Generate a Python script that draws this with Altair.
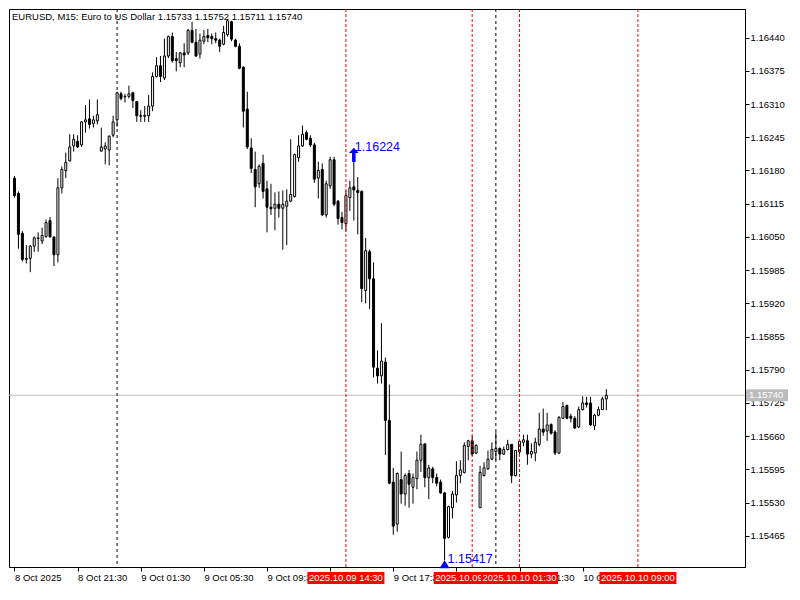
import altair as alt
import pandas as pd

# ---------------- data (EURUSD M15, bar 0 = 8 Oct 2025 17:30) ----------------
opens = [1.16165, 1.16135, 1.16057, 1.16006, 1.16008, 1.16032, 1.16047, 1.16042, 1.16051, 1.16082,
         1.16050, 1.16015, 1.16146, 1.16180, 1.16199, 1.16228, 1.16237, 1.16230, 1.16275, 1.16281,
         1.16272, 1.16277, 1.16218, 1.16222, 1.16220, 1.16249, 1.16279, 1.16330, 1.16324, 1.16325,
         1.16332, 1.16315, 1.16287, 1.16286, 1.16287, 1.16306, 1.16364, 1.16385, 1.16361, 1.16404,
         1.16442, 1.16399, 1.16391, 1.16410, 1.16410, 1.16454, 1.16431, 1.16408, 1.16433, 1.16444,
         1.16442, 1.16438, 1.16435, 1.16427, 1.16446, 1.16471, 1.16435, 1.16423, 1.16382, 1.16300,
         1.16224, 1.16182, 1.16154, 1.16194, 1.16144, 1.16108, 1.16106, 1.16114, 1.16106, 1.16110,
         1.16120, 1.16129, 1.16205, 1.16228, 1.16254, 1.16243, 1.16230, 1.16165, 1.16182, 1.16093,
         1.16150, 1.16201, 1.16120, 1.16088, 1.16076, 1.16127, 1.16148, 1.16141, 1.16139, 1.15945,
         1.16021, 1.15968, 1.15793, 1.15778, 1.15805, 1.15691, 1.15570, 1.15488, 1.15575, 1.15547,
         1.15587, 1.15560, 1.15577, 1.15613, 1.15645, 1.15579, 1.15596, 1.15579, 1.15570, 1.15549,
         1.15462, 1.15520, 1.15545, 1.15583, 1.15589, 1.15640, 1.15651, 1.15627, 1.15520, 1.15583,
         1.15596, 1.15615, 1.15630, 1.15636, 1.15625, 1.15634, 1.15644, 1.15583, 1.15629, 1.15648,
         1.15651, 1.15625, 1.15627, 1.15644, 1.15674, 1.15670, 1.15683, 1.15668, 1.15627, 1.15695,
         1.15720, 1.15699, 1.15695, 1.15678, 1.15712, 1.15725, 1.15725, 1.15680, 1.15701, 1.15712,
         1.15733]

highs = [1.16169, 1.16139, 1.16061, 1.16034, 1.16034, 1.16051, 1.16059, 1.16068, 1.16084, 1.16089,
         1.16050, 1.16165, 1.16188, 1.16215, 1.16251, 1.16251, 1.16249, 1.16277, 1.16308, 1.16319,
         1.16287, 1.16319, 1.16264, 1.16235, 1.16249, 1.16287, 1.16334, 1.16334, 1.16330, 1.16346,
         1.16334, 1.16315, 1.16298, 1.16306, 1.16328, 1.16372, 1.16402, 1.16404, 1.16438, 1.16444,
         1.16450, 1.16412, 1.16412, 1.16429, 1.16457, 1.16471, 1.16457, 1.16448, 1.16455, 1.16457,
         1.16448, 1.16450, 1.16438, 1.16463, 1.16476, 1.16473, 1.16438, 1.16429, 1.16384, 1.16334,
         1.16243, 1.16217, 1.16192, 1.16211, 1.16160, 1.16154, 1.16137, 1.16139, 1.16141, 1.16143,
         1.16241, 1.16213, 1.16249, 1.16268, 1.16258, 1.16249, 1.16234, 1.16197, 1.16194, 1.16160,
         1.16207, 1.16207, 1.16122, 1.16099, 1.16141, 1.16160, 1.16224, 1.16167, 1.16141, 1.16048,
         1.16025, 1.16000, 1.15828, 1.15881, 1.15814, 1.15761, 1.15598, 1.15589, 1.15630, 1.15587,
         1.15594, 1.15587, 1.15630, 1.15663, 1.15646, 1.15604, 1.15600, 1.15587, 1.15575, 1.15551,
         1.15524, 1.15553, 1.15611, 1.15613, 1.15648, 1.15653, 1.15661, 1.15644, 1.15602, 1.15609,
         1.15632, 1.15648, 1.15668, 1.15638, 1.15640, 1.15653, 1.15644, 1.15632, 1.15651, 1.15663,
         1.15663, 1.15646, 1.15657, 1.15706, 1.15714, 1.15706, 1.15685, 1.15672, 1.15699, 1.15727,
         1.15722, 1.15704, 1.15699, 1.15718, 1.15738, 1.15737, 1.15737, 1.15704, 1.15718, 1.15737,
         1.15752]

lows = [1.16127, 1.16027, 1.16002, 1.15998, 1.15981, 1.16021, 1.16021, 1.16036, 1.16048, 1.16049,
        1.15993, 1.16000, 1.16135, 1.16165, 1.16197, 1.16217, 1.16224, 1.16226, 1.16254, 1.16262,
        1.16264, 1.16270, 1.16217, 1.16192, 1.16190, 1.16245, 1.16266, 1.16317, 1.16313, 1.16321,
        1.16302, 1.16275, 1.16275, 1.16275, 1.16275, 1.16296, 1.16362, 1.16353, 1.16357, 1.16400,
        1.16391, 1.16374, 1.16382, 1.16382, 1.16406, 1.16429, 1.16402, 1.16399, 1.16427, 1.16431,
        1.16427, 1.16429, 1.16412, 1.16425, 1.16442, 1.16433, 1.16421, 1.16378, 1.16264, 1.16222,
        1.16175, 1.16108, 1.16146, 1.16125, 1.16059, 1.16093, 1.16063, 1.16088, 1.16025, 1.16034,
        1.16118, 1.16127, 1.16197, 1.16226, 1.16239, 1.16226, 1.16156, 1.16125, 1.16091, 1.16088,
        1.16144, 1.16110, 1.16074, 1.16065, 1.16061, 1.16101, 1.16082, 1.16055, 1.15922, 1.15920,
        1.15909, 1.15775, 1.15763, 1.15763, 1.15623, 1.15566, 1.15467, 1.15473, 1.15528, 1.15524,
        1.15520, 1.15528, 1.15556, 1.15590, 1.15560, 1.15537, 1.15568, 1.15562, 1.15547, 1.15417,
        1.15460, 1.15499, 1.15530, 1.15568, 1.15587, 1.15613, 1.15621, 1.15625, 1.15520, 1.15581,
        1.15594, 1.15613, 1.15613, 1.15613, 1.15623, 1.15632, 1.15568, 1.15581, 1.15625, 1.15640,
        1.15604, 1.15617, 1.15611, 1.15640, 1.15661, 1.15651, 1.15663, 1.15623, 1.15625, 1.15695,
        1.15693, 1.15687, 1.15674, 1.15676, 1.15710, 1.15716, 1.15680, 1.15672, 1.15699, 1.15712,
        1.15711]

closes = [1.16131, 1.16055, 1.16006, 1.16008, 1.16032, 1.16048, 1.16048, 1.16053, 1.16078, 1.16050,
          1.16015, 1.16146, 1.16182, 1.16196, 1.16226, 1.16241, 1.16226, 1.16275, 1.16279, 1.16270,
          1.16279, 1.16289, 1.16226, 1.16228, 1.16247, 1.16275, 1.16332, 1.16321, 1.16325, 1.16330,
          1.16317, 1.16287, 1.16286, 1.16288, 1.16306, 1.16364, 1.16385, 1.16364, 1.16404, 1.16442,
          1.16395, 1.16395, 1.16410, 1.16406, 1.16454, 1.16431, 1.16404, 1.16435, 1.16442, 1.16440,
          1.16438, 1.16435, 1.16423, 1.16450, 1.16473, 1.16437, 1.16423, 1.16380, 1.16296, 1.16226,
          1.16184, 1.16148, 1.16188, 1.16139, 1.16108, 1.16105, 1.16114, 1.16106, 1.16114, 1.16120,
          1.16133, 1.16211, 1.16228, 1.16251, 1.16241, 1.16230, 1.16163, 1.16180, 1.16093, 1.16154,
          1.16201, 1.16114, 1.16086, 1.16078, 1.16131, 1.16146, 1.16142, 1.16137, 1.15949, 1.16023,
          1.15968, 1.15795, 1.15778, 1.15807, 1.15691, 1.15568, 1.15484, 1.15587, 1.15547, 1.15583,
          1.15566, 1.15579, 1.15613, 1.15644, 1.15579, 1.15598, 1.15579, 1.15568, 1.15549, 1.15460,
          1.15522, 1.15547, 1.15583, 1.15594, 1.15642, 1.15651, 1.15625, 1.15642, 1.15589, 1.15598,
          1.15615, 1.15634, 1.15636, 1.15625, 1.15634, 1.15644, 1.15583, 1.15632, 1.15650, 1.15653,
          1.15625, 1.15630, 1.15648, 1.15674, 1.15668, 1.15682, 1.15666, 1.15627, 1.15697, 1.15718,
          1.15695, 1.15695, 1.15676, 1.15712, 1.15725, 1.15722, 1.15682, 1.15701, 1.15712, 1.15733,
          1.15740]

price_ticks = [1.15465, 1.15530, 1.15595, 1.15660, 1.15725, 1.15790, 1.15855, 1.15920,
               1.15985, 1.16050, 1.16115, 1.16180, 1.16245, 1.16310, 1.16375, 1.16440]

time_tick_bars = [0, 16, 32, 48, 64, 80, 96, 112, 128, 144]
time_tick_labels = ["8 Oct 2025", "8 Oct 21:30", "9 Oct 01:30", "9 Oct 05:30", "9 Oct 09:30",
                    "9 Oct 13:30", "9 Oct 17:30", "9 Oct 21:30", "10 Oct 01:30", "10 Oct 05:30"]

day_sep_bars = [26, 122]
vline_bars = [84, 116, 128, 158]
vline_labels = ["2025.10.09 14:30", "2025.10.09 22:30", "2025.10.10 01:30", "2025.10.10 09:00"]

high_bar, high_price = 86, 1.16224
low_bar, low_price = 109, 1.15417
current_price = 1.15740
title_text = "EURUSD, M15:  Euro to US Dollar  1.15733 1.15752 1.15711 1.15740"

# ---------------- chart ----------------
W, H = 736, 558
FONT = "Liberation Sans"

df = pd.DataFrame({"i": list(range(len(opens))), "open": opens, "high": highs,
                   "low": lows, "close": closes})
df["up"] = df["close"] >= df["open"]

xs = alt.Scale(domain=[-0.125, 183.875], nice=False, zero=False)
ys = alt.Scale(domain=[1.15404, 1.16496], nice=False, zero=False)

label_expr = ("[" + ",".join("'%s'" % t for t in time_tick_labels) + "][indexof(["
              + ",".join(str(b) for b in time_tick_bars) + "], datum.value)]")

x_axis = alt.Axis(orient="bottom", values=time_tick_bars, labelExpr=label_expr,
                  labelAlign="left", labelBaseline="top", labelPadding=1, tickSize=4,
                  tickColor="black", domainColor="black", labelColor="black",
                  labelFontSize=9.5, labelFont=FONT, grid=False, title=None,
                  labelOverlap=False, labelBound=False, labelFlush=False)
y_axis = alt.Axis(orient="right", values=price_ticks, format=".5f", tickSize=4,
                  tickColor="black", domainColor="black", labelColor="black",
                  labelPadding=1, labelFontSize=9.5, labelFont=FONT, grid=False,
                  title=None, labelOverlap=False, labelBound=False, labelFlush=False)


def X(field):
    return alt.X(field, scale=xs, axis=x_axis)


def Y(field):
    return alt.Y(field, scale=ys, axis=y_axis)


cur_df = pd.DataFrame({"p": [current_price], "t": ["%.5f" % current_price]})
price_line = alt.Chart(cur_df).mark_rule(color="#c0c0c0", strokeWidth=1).encode(
    y=Y("p:Q"), x=alt.value(0), x2=alt.value(W))

day_df = pd.DataFrame({"b": day_sep_bars})
day_lines = alt.Chart(day_df).mark_rule(color="black", strokeDash=[3, 3], strokeWidth=1).encode(
    x=X("b:Q"), y=alt.value(0), y2=alt.value(H))

wicks = alt.Chart(df).mark_rule(color="black", strokeWidth=1, clip=True).encode(
    x=X("i:Q"), y=Y("low:Q"), y2="high:Q")

bodies = alt.Chart(df).mark_bar(size=2, stroke="black", strokeWidth=1, clip=True).encode(
    x=X("i:Q"), y=Y("open:Q"), y2="close:Q",
    fill=alt.condition("datum.up", alt.value("white"), alt.value("black")))

vl_df = pd.DataFrame({"b": vline_bars, "t": vline_labels})
red_lines = alt.Chart(vl_df).mark_rule(color="#ff0000", strokeDash=[3, 2], strokeWidth=1).encode(
    x=X("b:Q"), y=alt.value(0), y2=alt.value(H))

rect_box = "M-1,-0.156L1,-0.156L1,0.156L-1,0.156Z"
red_tags = []
for b, t in zip(vline_bars, vline_labels):
    d = pd.DataFrame({"b": [b], "t": [t]})
    red_tags.append(alt.Chart(d).mark_point(shape=rect_box, size=77 * 77, filled=True,
                                            color="#ff0000", opacity=1, strokeWidth=0).encode(
        x=X("b:Q"), y=alt.value(H + 11)))
    red_tags.append(alt.Chart(d).mark_text(color="white", fontSize=9.5, font=FONT,
                                           align="center", baseline="middle").encode(
        x=X("b:Q"), y=alt.value(H + 11), text="t:N"))

gray_box = "M-1,-0.286L1,-0.286L1,0.286L-1,0.286Z"
cur_box = alt.Chart(cur_df).mark_point(shape=gray_box, size=42 * 42, filled=True,
                                       color="#bcbcbc", opacity=1, strokeWidth=0).encode(
    x=alt.value(W + 22), y=Y("p:Q"))
cur_text = alt.Chart(cur_df).mark_text(color="white", fontSize=9.5, font=FONT,
                                       align="left", baseline="middle").encode(
    x=alt.value(W + 4), y=Y("p:Q"), text="t:N")

hi_df = pd.DataFrame({"b": [high_bar], "p": [high_price], "t": ["%.5f" % high_price]})
lo_df = pd.DataFrame({"b": [low_bar], "p": [low_price], "t": ["%.5f" % low_price]})

arrow_up = "M0,-1L0.7,-0.3L0.25,-0.3L0.25,1L-0.25,1L-0.25,-0.3L-0.7,-0.3Z"
hi_arrow = alt.Chart(hi_df).mark_point(shape=arrow_up, size=196, filled=True, color="#0000ff",
                                       opacity=1, strokeWidth=0, yOffset=7).encode(
    x=X("b:Q"), y=Y("p:Q"))
hi_text = alt.Chart(hi_df).mark_text(color="#0000ff", fontSize=12.5, font=FONT, align="left",
                                     baseline="middle", dx=1, dy=-1).encode(
    x=X("b:Q"), y=Y("p:Q"), text="t:N")

tri_up = "M0,-0.8L1,0.8L-1,0.8Z"
lo_tri = alt.Chart(lo_df).mark_point(shape=tri_up, size=100, filled=True, color="#0000ff",
                                     opacity=1, strokeWidth=0, yOffset=4).encode(
    x=X("b:Q"), y=Y("p:Q"))
lo_text = alt.Chart(lo_df).mark_text(color="#0000ff", fontSize=12.5, font=FONT, align="left",
                                     baseline="middle", dx=3, dy=-1).encode(
    x=X("b:Q"), y=Y("p:Q"), text="t:N")

title_df = pd.DataFrame({"t": [title_text]})
title = alt.Chart(title_df).mark_text(color="black", fontSize=9.5, font=FONT, align="left",
                                      baseline="middle").encode(
    x=alt.value(3), y=alt.value(8), text="t:N")

chart = alt.layer(
    price_line, day_lines, wicks, bodies, red_lines, *red_tags,
    cur_box, cur_text, hi_arrow, hi_text, lo_tri, lo_text, title
).properties(
    width=W, height=H,
    autosize=alt.AutoSizeParams(type="none"),
    padding={"left": 1, "top": 1, "right": 45, "bottom": 19},
    background="white",
).configure(font=FONT).configure_view(stroke="black", strokeWidth=1)

chart.save("out.html", embed_options={"renderer": "svg", "actions": False})
